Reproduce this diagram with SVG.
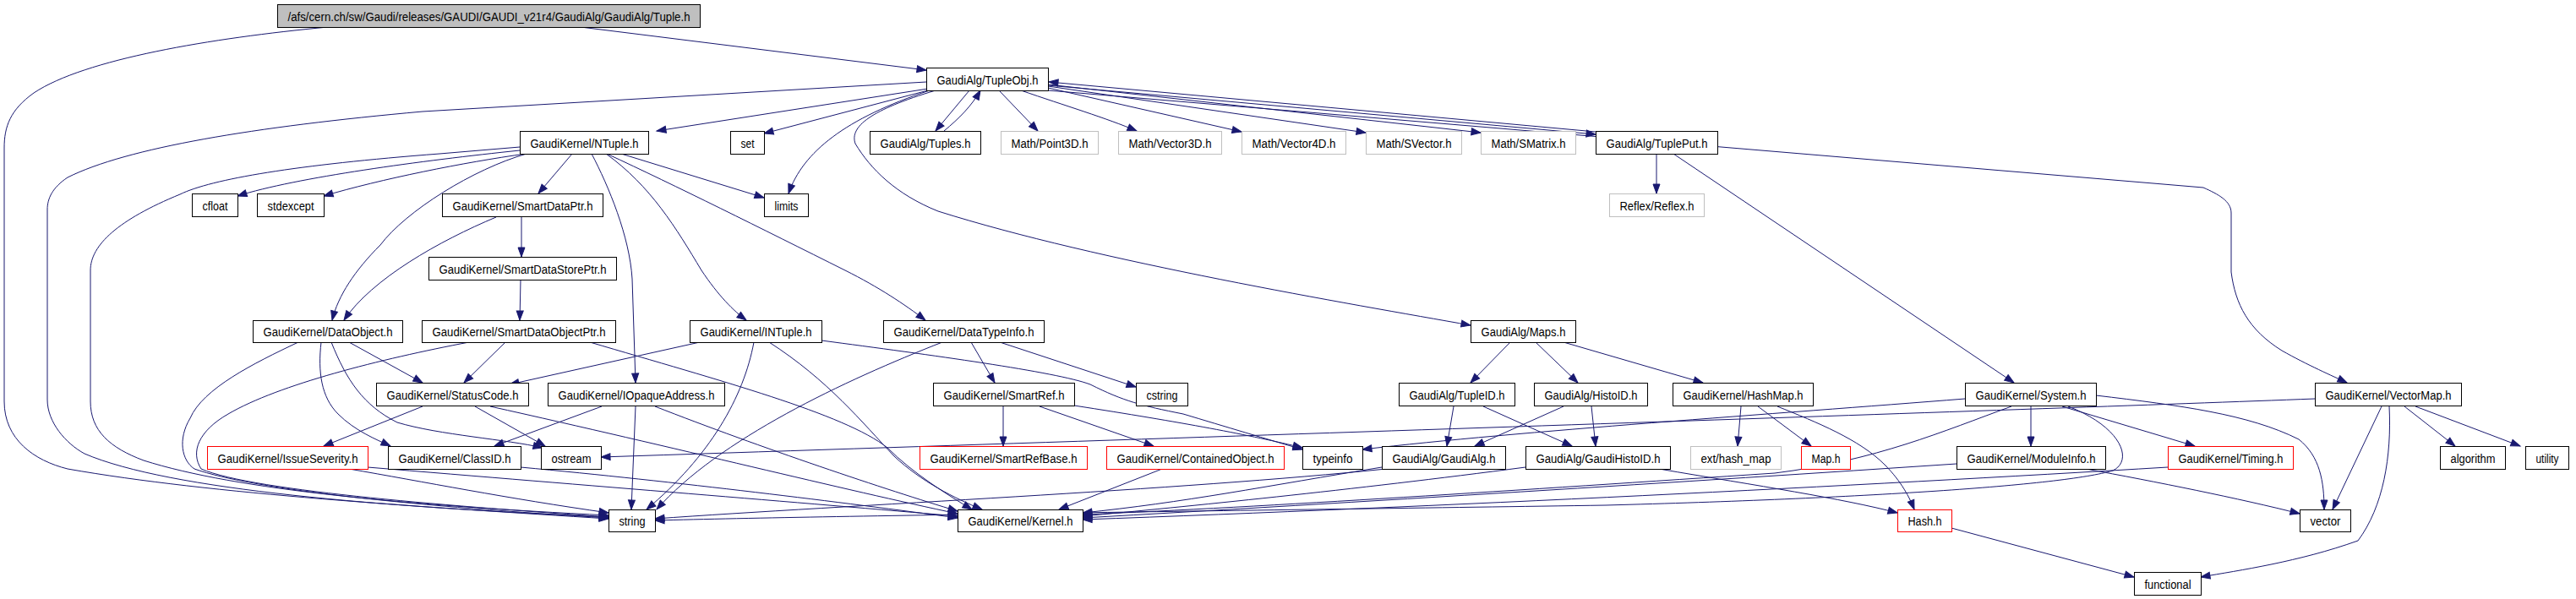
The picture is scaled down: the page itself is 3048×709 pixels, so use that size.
<svg xmlns="http://www.w3.org/2000/svg" width="3048" height="709" viewBox="0 0 3048 709">
<style>
rect{fill:#fff;stroke:#000;stroke-width:1}
.g rect{stroke:#bfbfbf}
.r rect{stroke:#ff0000}
.root rect{fill:#bfbfbf}
text{font-family:"Liberation Sans",Arial,sans-serif;font-size:14px;text-anchor:middle;fill:#000}
#edges path{fill:none;stroke:#191970;stroke-width:1;marker-end:url(#a)}
</style>
<defs>
<marker id="a" markerWidth="12" markerHeight="9" refX="11" refY="4" orient="auto" markerUnits="userSpaceOnUse" overflow="visible"><path d="M0,0 L11,4 L0,8 z" fill="#191970" stroke="#191970" stroke-width="1"/></marker>
</defs>
<rect x="0" y="0" width="3048" height="709" style="fill:#fff;stroke:none"/>
<g id="edges">
<path d="M687,32 L1096,83"/>
<path d="M388,32 C250,45 100,70 40,110 C12,130 5,150 5,175 L5,475 C5,520 40,545 80,555 C250,585 500,600 720,614"/>
<path d="M1096,97 L500,132 C300,150 150,175 80,210 C62,222 56,235 56,248 L56,473 C56,500 78,525 100,537 C200,580 450,600 720,612"/>
<path d="M615,174 L520,182 C350,195 250,212 213,230 C140,260 107,290 107,320 L107,475 C107,510 130,530 170,545 C280,580 480,598 720,610"/>
<path d="M615,178 C500,190 350,210 281,232"/>
<path d="M622,182 C550,192 450,212 383,232"/>
<path d="M623,182 C560,200 480,250 450,290 C420,320 400,350 393,379"/>
<path d="M587,257 C520,285 440,330 407,379"/>
<path d="M677,182 L637,229"/>
<path d="M735,182 L904,234"/>
<path d="M700,182 C720,220 745,280 748,330 L752,453"/>
<path d="M717,182 C770,220 800,270 830,320 C850,350 868,368 883,379"/>
<path d="M718,182 C800,220 900,270 1000,320 C1040,340 1070,360 1095,379"/>
<path d="M1098,105 L777,155"/>
<path d="M1098,107 L904,158"/>
<path d="M1100,107 C1000,140 950,180 933,229"/>
<path d="M1147,107 L1107,155"/>
<path d="M1117,155 C1135,140 1150,125 1160,107"/>
<path d="M1182,107 L1228,155"/>
<path d="M1208,107 C1260,125 1310,140 1345,155"/>
<path d="M1240,104 L1469,156"/>
<path d="M1240,102 L1616,157"/>
<path d="M1240,100 L1752,157"/>
<path d="M1240,101 L1888,159"/>
<path d="M1888,156 L1241,97"/>
<path d="M1240,107 L2607,222 C2625,230 2640,238 2640,252 L2640,322 C2645,360 2660,390 2700,415 C2730,432 2760,445 2777,453"/>
<path d="M1107,107 C1030,130 1005,150 1012,170 C1030,200 1060,230 1110,250 C1300,310 1600,360 1740,385"/>
<path d="M1960,182 L1960,229"/>
<path d="M1980,182 L2383,453"/>
<path d="M617,257 L617,304"/>
<path d="M616,331 L615,379"/>
<path d="M598,405 L549,453"/>
<path d="M555,405 C450,425 330,455 270,490 C235,510 225,535 238,555 C300,582 550,600 720,612"/>
<path d="M698,405 C850,450 1000,490 1050,530 C1080,560 1120,585 1150,603"/>
<path d="M413,405 L500,453"/>
<path d="M380,405 C376,440 380,470 400,490 C420,510 445,520 462,528"/>
<path d="M392,405 C410,450 430,480 470,500 C520,515 600,520 642,530"/>
<path d="M353,405 C300,430 240,460 225,495 C210,520 215,545 230,555 C300,580 500,600 720,613"/>
<path d="M500,481 L383,528"/>
<path d="M562,481 L645,528"/>
<path d="M580,481 C800,530 1000,580 1133,608"/>
<path d="M413,555 C500,570 600,590 720,607"/>
<path d="M435,553 C700,575 950,595 1133,611"/>
<path d="M616,553 C800,570 1000,595 1133,613"/>
<path d="M712,481 L585,528"/>
<path d="M752,481 L747,603"/>
<path d="M775,481 C900,530 1050,580 1133,605"/>
<path d="M828,405 L603,455"/>
<path d="M892,405 C880,470 840,540 765,603"/>
<path d="M910,405 C980,450 1020,500 1058,540 C1090,570 1130,590 1162,603"/>
<path d="M972,403 C1100,420 1250,440 1290,455 C1330,475 1350,480 1400,490 C1450,505 1500,520 1541,532"/>
<path d="M1149,405 L1177,453"/>
<path d="M1183,405 L1344,458"/>
<path d="M1115,405 C1000,450 850,520 777,603"/>
<path d="M1187,480 L1187,528"/>
<path d="M1230,481 L1365,528"/>
<path d="M1271,480 C1400,500 1480,515 1541,530"/>
<path d="M1375,555 L1253,603"/>
<path d="M1787,405 L1740,453"/>
<path d="M1817,405 L1867,453"/>
<path d="M1850,405 L2015,453"/>
<path d="M1720,481 L1712,528"/>
<path d="M1755,481 L1860,528"/>
<path d="M1850,481 L1745,528"/>
<path d="M1883,481 L1888,528"/>
<path d="M2060,481 L2056,528"/>
<path d="M2080,481 L2143,528"/>
<path d="M2103,481 C2150,500 2200,520 2230,550 C2250,570 2260,590 2265,603"/>
<path d="M1963,555 C2080,575 2180,590 2245,607"/>
<path d="M2309,625 L2525,683"/>
<path d="M2403,481 L2403,528"/>
<path d="M2440,481 L2597,528"/>
<path d="M2480,468 C2580,480 2660,490 2720,520 C2745,540 2750,570 2750,603"/>
<path d="M2325,472 C2100,490 1800,510 1612,532"/>
<path d="M2739,472 C2400,485 1500,515 711,541"/>
<path d="M2380,481 C2300,510 2220,545 2100,560 C1800,580 1500,600 1281,609"/>
<path d="M2447,481 C2510,505 2525,545 2500,557 C2440,575 2200,590 1900,598 C1500,604 1000,610 775,616"/>
<path d="M1635,553 C1500,575 1400,595 1281,607"/>
<path d="M1640,555 C1400,580 1000,598 775,614"/>
<path d="M1805,553 C1600,580 1400,600 1281,611"/>
<path d="M2315,549 C2000,570 1600,595 1281,613"/>
<path d="M2565,553 C2200,575 1700,600 1281,615"/>
<path d="M2468,555 C2550,570 2650,590 2721,608"/>
<path d="M2818,481 L2760,603"/>
<path d="M2827,481 C2830,540 2820,600 2790,640 C2720,665 2650,675 2604,683"/>
<path d="M2845,481 L2905,528"/>
<path d="M2858,481 L2982,528"/>
</g>
<g id="n_root" class="root"><rect x="328.5" y="5.5" width="500" height="27"/><text x="578.5" y="24.5" textLength="476" lengthAdjust="spacingAndGlyphs">/afs/cern.ch/sw/Gaudi/releases/GAUDI/GAUDI_v21r4/GaudiAlg/GaudiAlg/Tuple.h</text></g>
<g id="n_TupleObj"><rect x="1096.5" y="80.5" width="144" height="27"/><text x="1168.5" y="99.5" textLength="120" lengthAdjust="spacingAndGlyphs">GaudiAlg/TupleObj.h</text></g>
<g id="n_NTuple"><rect x="615.5" y="155.5" width="152" height="27"/><text x="691.5" y="174.5" textLength="128" lengthAdjust="spacingAndGlyphs">GaudiKernel/NTuple.h</text></g>
<g id="n_set"><rect x="864.5" y="155.5" width="40" height="27"/><text x="884.5" y="174.5" textLength="16" lengthAdjust="spacingAndGlyphs">set</text></g>
<g id="n_Tuples"><rect x="1029.5" y="155.5" width="131" height="27"/><text x="1095" y="174.5" textLength="107" lengthAdjust="spacingAndGlyphs">GaudiAlg/Tuples.h</text></g>
<g id="n_Point3D" class="g"><rect x="1184.5" y="155.5" width="115" height="27"/><text x="1242" y="174.5" textLength="91" lengthAdjust="spacingAndGlyphs">Math/Point3D.h</text></g>
<g id="n_Vector3D" class="g"><rect x="1323.5" y="155.5" width="122" height="27"/><text x="1384.5" y="174.5" textLength="98" lengthAdjust="spacingAndGlyphs">Math/Vector3D.h</text></g>
<g id="n_Vector4D" class="g"><rect x="1469.5" y="155.5" width="123" height="27"/><text x="1531" y="174.5" textLength="99" lengthAdjust="spacingAndGlyphs">Math/Vector4D.h</text></g>
<g id="n_SVector" class="g"><rect x="1616.5" y="155.5" width="113" height="27"/><text x="1673" y="174.5" textLength="89" lengthAdjust="spacingAndGlyphs">Math/SVector.h</text></g>
<g id="n_SMatrix" class="g"><rect x="1752.5" y="155.5" width="112" height="27"/><text x="1808.5" y="174.5" textLength="88" lengthAdjust="spacingAndGlyphs">Math/SMatrix.h</text></g>
<g id="n_TuplePut"><rect x="1888.5" y="155.5" width="144" height="27"/><text x="1960.5" y="174.5" textLength="120" lengthAdjust="spacingAndGlyphs">GaudiAlg/TuplePut.h</text></g>
<g id="n_cfloat"><rect x="227.5" y="229.5" width="54" height="27"/><text x="254.5" y="248.5" textLength="30" lengthAdjust="spacingAndGlyphs">cfloat</text></g>
<g id="n_stdexcept"><rect x="304.5" y="229.5" width="79" height="27"/><text x="344" y="248.5" textLength="55" lengthAdjust="spacingAndGlyphs">stdexcept</text></g>
<g id="n_SmartDataPtr"><rect x="523.5" y="229.5" width="190" height="27"/><text x="618.5" y="248.5" textLength="166" lengthAdjust="spacingAndGlyphs">GaudiKernel/SmartDataPtr.h</text></g>
<g id="n_limits"><rect x="904.5" y="229.5" width="52" height="27"/><text x="930.5" y="248.5" textLength="28" lengthAdjust="spacingAndGlyphs">limits</text></g>
<g id="n_Reflex" class="g"><rect x="1904.5" y="229.5" width="112" height="27"/><text x="1960.5" y="248.5" textLength="88" lengthAdjust="spacingAndGlyphs">Reflex/Reflex.h</text></g>
<g id="n_SmartDataStorePtr"><rect x="507.5" y="304.5" width="222" height="27"/><text x="618.5" y="323.5" textLength="198" lengthAdjust="spacingAndGlyphs">GaudiKernel/SmartDataStorePtr.h</text></g>
<g id="n_DataObject"><rect x="299.5" y="379.5" width="177" height="26"/><text x="388" y="398" textLength="153" lengthAdjust="spacingAndGlyphs">GaudiKernel/DataObject.h</text></g>
<g id="n_SmartDataObjectPtr"><rect x="499.5" y="379.5" width="229" height="26"/><text x="614" y="398" textLength="205" lengthAdjust="spacingAndGlyphs">GaudiKernel/SmartDataObjectPtr.h</text></g>
<g id="n_INTuple"><rect x="816.5" y="379.5" width="156" height="26"/><text x="894.5" y="398" textLength="132" lengthAdjust="spacingAndGlyphs">GaudiKernel/INTuple.h</text></g>
<g id="n_DataTypeInfo"><rect x="1045.5" y="379.5" width="190" height="26"/><text x="1140.5" y="398" textLength="166" lengthAdjust="spacingAndGlyphs">GaudiKernel/DataTypeInfo.h</text></g>
<g id="n_Maps"><rect x="1740.5" y="379.5" width="124" height="26"/><text x="1802.5" y="398" textLength="100" lengthAdjust="spacingAndGlyphs">GaudiAlg/Maps.h</text></g>
<g id="n_StatusCode"><rect x="445.5" y="453.5" width="180" height="27"/><text x="535.5" y="472.5" textLength="156" lengthAdjust="spacingAndGlyphs">GaudiKernel/StatusCode.h</text></g>
<g id="n_IOpaqueAddress"><rect x="648.5" y="453.5" width="209" height="27"/><text x="753" y="472.5" textLength="185" lengthAdjust="spacingAndGlyphs">GaudiKernel/IOpaqueAddress.h</text></g>
<g id="n_SmartRef"><rect x="1104.5" y="453.5" width="167" height="27"/><text x="1188" y="472.5" textLength="143" lengthAdjust="spacingAndGlyphs">GaudiKernel/SmartRef.h</text></g>
<g id="n_cstring"><rect x="1344.5" y="453.5" width="61" height="27"/><text x="1375" y="472.5" textLength="37" lengthAdjust="spacingAndGlyphs">cstring</text></g>
<g id="n_TupleID"><rect x="1655.5" y="453.5" width="137" height="27"/><text x="1724" y="472.5" textLength="113" lengthAdjust="spacingAndGlyphs">GaudiAlg/TupleID.h</text></g>
<g id="n_HistoID"><rect x="1815.5" y="453.5" width="134" height="27"/><text x="1882.5" y="472.5" textLength="110" lengthAdjust="spacingAndGlyphs">GaudiAlg/HistoID.h</text></g>
<g id="n_HashMap"><rect x="1979.5" y="453.5" width="166" height="27"/><text x="2062.5" y="472.5" textLength="142" lengthAdjust="spacingAndGlyphs">GaudiKernel/HashMap.h</text></g>
<g id="n_System"><rect x="2325.5" y="453.5" width="155" height="27"/><text x="2403" y="472.5" textLength="131" lengthAdjust="spacingAndGlyphs">GaudiKernel/System.h</text></g>
<g id="n_VectorMap"><rect x="2739.5" y="453.5" width="173" height="27"/><text x="2826" y="472.5" textLength="149" lengthAdjust="spacingAndGlyphs">GaudiKernel/VectorMap.h</text></g>
<g id="n_IssueSeverity" class="r"><rect x="245.5" y="528.5" width="190" height="27"/><text x="340.5" y="547.5" textLength="166" lengthAdjust="spacingAndGlyphs">GaudiKernel/IssueSeverity.h</text></g>
<g id="n_ClassID"><rect x="459.5" y="528.5" width="157" height="27"/><text x="538" y="547.5" textLength="133" lengthAdjust="spacingAndGlyphs">GaudiKernel/ClassID.h</text></g>
<g id="n_ostream"><rect x="640.5" y="528.5" width="71" height="27"/><text x="676" y="547.5" textLength="47" lengthAdjust="spacingAndGlyphs">ostream</text></g>
<g id="n_SmartRefBase" class="r"><rect x="1088.5" y="528.5" width="198" height="27"/><text x="1187.5" y="547.5" textLength="174" lengthAdjust="spacingAndGlyphs">GaudiKernel/SmartRefBase.h</text></g>
<g id="n_ContainedObject" class="r"><rect x="1309.5" y="528.5" width="210" height="27"/><text x="1414.5" y="547.5" textLength="186" lengthAdjust="spacingAndGlyphs">GaudiKernel/ContainedObject.h</text></g>
<g id="n_typeinfo"><rect x="1541.5" y="528.5" width="71" height="27"/><text x="1577" y="547.5" textLength="47" lengthAdjust="spacingAndGlyphs">typeinfo</text></g>
<g id="n_GaudiAlg"><rect x="1635.5" y="528.5" width="146" height="27"/><text x="1708.5" y="547.5" textLength="122" lengthAdjust="spacingAndGlyphs">GaudiAlg/GaudiAlg.h</text></g>
<g id="n_GaudiHistoID"><rect x="1805.5" y="528.5" width="171" height="27"/><text x="1891" y="547.5" textLength="147" lengthAdjust="spacingAndGlyphs">GaudiAlg/GaudiHistoID.h</text></g>
<g id="n_hash_map" class="g"><rect x="2000.5" y="528.5" width="107" height="27"/><text x="2054" y="547.5" textLength="83" lengthAdjust="spacingAndGlyphs">ext/hash_map</text></g>
<g id="n_Map" class="r"><rect x="2131.5" y="528.5" width="58" height="27"/><text x="2160.5" y="547.5" textLength="34" lengthAdjust="spacingAndGlyphs">Map.h</text></g>
<g id="n_ModuleInfo"><rect x="2315.5" y="528.5" width="176" height="27"/><text x="2403.5" y="547.5" textLength="152" lengthAdjust="spacingAndGlyphs">GaudiKernel/ModuleInfo.h</text></g>
<g id="n_Timing" class="r"><rect x="2565.5" y="528.5" width="148" height="27"/><text x="2639.5" y="547.5" textLength="124" lengthAdjust="spacingAndGlyphs">GaudiKernel/Timing.h</text></g>
<g id="n_algorithm"><rect x="2887.5" y="528.5" width="77" height="27"/><text x="2926" y="547.5" textLength="53" lengthAdjust="spacingAndGlyphs">algorithm</text></g>
<g id="n_utility"><rect x="2988.5" y="528.5" width="51" height="27"/><text x="3014" y="547.5" textLength="27" lengthAdjust="spacingAndGlyphs">utility</text></g>
<g id="n_string"><rect x="720.5" y="603.5" width="55" height="26"/><text x="748" y="622" textLength="31" lengthAdjust="spacingAndGlyphs">string</text></g>
<g id="n_Kernel"><rect x="1133.5" y="603.5" width="148" height="26"/><text x="1207.5" y="622" textLength="124" lengthAdjust="spacingAndGlyphs">GaudiKernel/Kernel.h</text></g>
<g id="n_Hash" class="r"><rect x="2245.5" y="603.5" width="64" height="26"/><text x="2277.5" y="622" textLength="40" lengthAdjust="spacingAndGlyphs">Hash.h</text></g>
<g id="n_vector"><rect x="2721.5" y="603.5" width="60" height="26"/><text x="2751.5" y="622" textLength="36" lengthAdjust="spacingAndGlyphs">vector</text></g>
<g id="n_functional"><rect x="2525.5" y="677.5" width="79" height="27"/><text x="2565" y="696.5" textLength="55" lengthAdjust="spacingAndGlyphs">functional</text></g>
</svg>
